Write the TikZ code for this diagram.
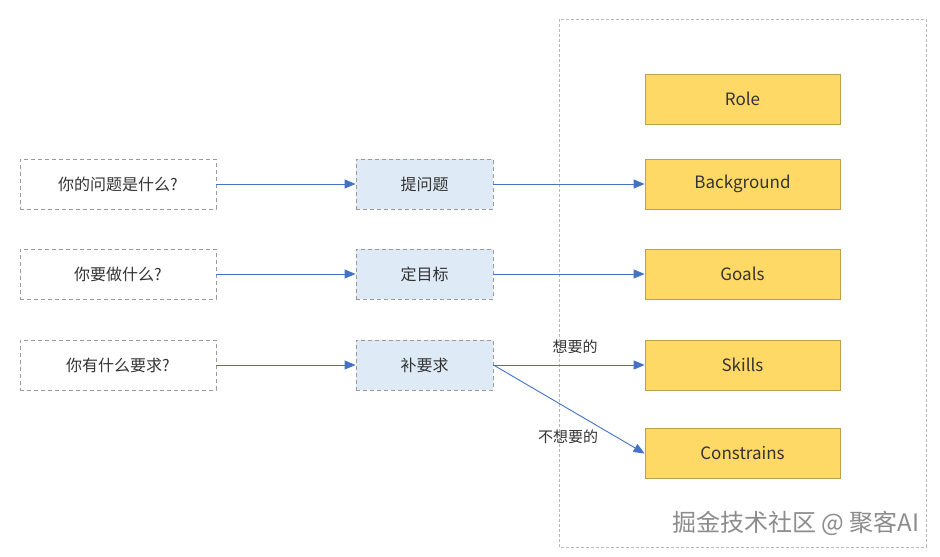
\documentclass[tikz,border=0pt]{standalone}
\usepackage{fontspec}
\setmainfont{Noto Sans CJK SC}
\usetikzlibrary{arrows.meta}
\definecolor{ylw}{HTML}{FFD966}
\definecolor{ylwb}{HTML}{BFA04A}
\definecolor{lblue}{HTML}{DEEBF7}
\definecolor{arr}{HTML}{4472C4}
\definecolor{dgray}{HTML}{9A9A9A}
\definecolor{txt}{HTML}{333333}
\tikzset{
  qbox/.style={draw=dgray, dashed, dash pattern=on 4pt off 3pt, line width=0.9pt, minimum width=196pt, minimum height=50pt, inner sep=0pt, font=\fontsize{16}{18}\selectfont, text=txt},
  mbox/.style={qbox, fill=lblue, minimum width=137pt},
  ybox/.style={draw=ylwb, fill=ylw, line width=0.8pt, minimum width=195pt, minimum height=50pt, inner sep=0pt, font=\fontsize{17}{19}\selectfont, text=txt},
  conn/.style={draw=arr, line width=0.9pt, -{Triangle[length=11pt,width=9pt]}},
  lbl/.style={font=\fontsize{15}{17}\selectfont, text=txt}
}
\begin{document}
\begin{tikzpicture}[x=1pt,y=-1pt]
\useasboundingbox (0,0) rectangle (940,557);
\fill[white] (0,0) rectangle (940,557);
\draw[dgray!70, dashed, dash pattern=on 3pt off 2pt, line width=0.8pt] (559,19) rectangle (926,547);
\node[ybox] (role) at (742.5,99) {Role};
\node[ybox] (bg) at (742.5,184) {Background};
\node[ybox] (goals) at (742.5,274) {Goals};
\node[ybox] (skills) at (742.5,365) {Skills};
\node[ybox] (cons) at (742.5,453.5) {Constrains};
\node[qbox] (q1) at (118,184) {你的问题是什么?};
\node[qbox] (q2) at (118,274) {你要做什么?};
\node[qbox] (q3) at (118,365) {你有什么要求?};
\node[mbox] (m1) at (424.5,184) {提问题};
\node[mbox] (m2) at (424.5,274) {定目标};
\node[mbox] (m3) at (424.5,365) {补要求};
\draw[conn] (q1) -- (m1);
\draw[conn] (q2) -- (m2);
\draw[conn] (q3) -- (m3);
\draw[conn] (m1) -- (bg);
\draw[conn] (m2) -- (goals);
\draw[conn] (m3) -- (skills);
\draw[conn] (m3.east) -- (cons.west);
\node[lbl] (l1) at (575,347) {想要的};
\node[lbl] (l2) at (568,437) {不想要的};
\node[font=\fontsize{24}{26}\selectfont, text=gray!90, anchor=east] (wm) at (923,523) {掘金技术社区 @ 聚客AI};
\end{tikzpicture}
\end{document}
